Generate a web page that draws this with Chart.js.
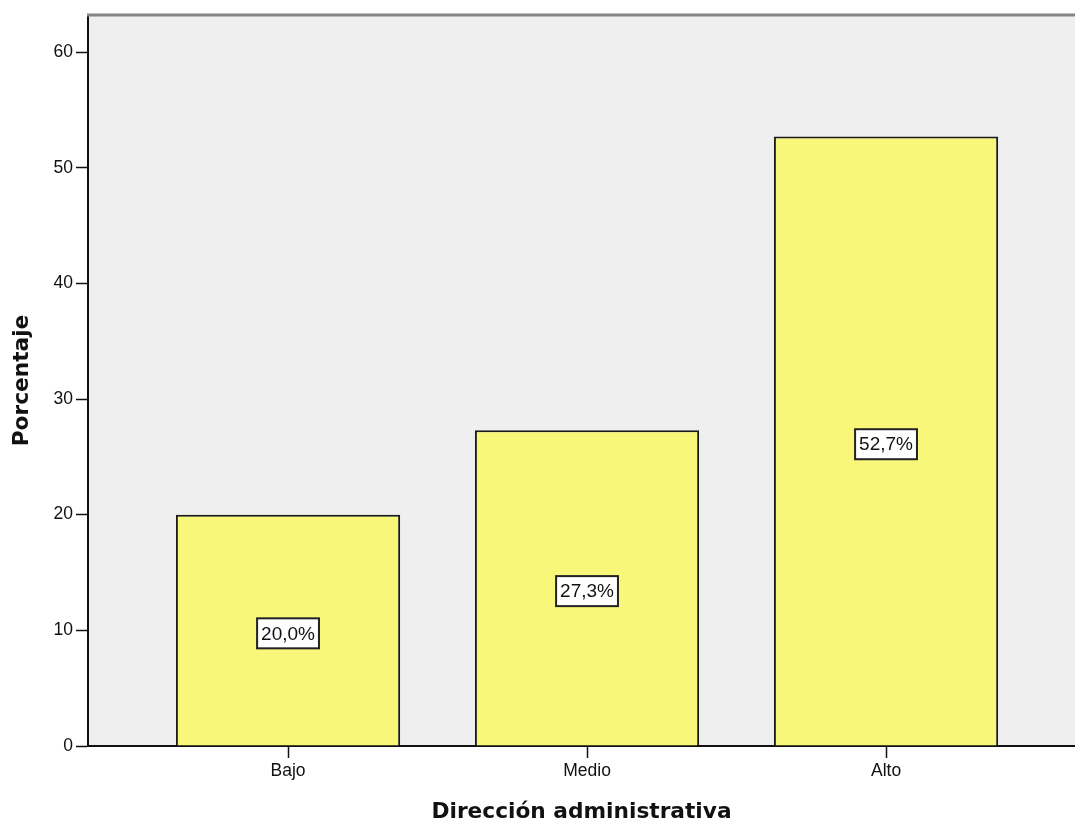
<!DOCTYPE html>
<html>
<head>
<meta charset="utf-8">
<script src="https://cdn.jsdelivr.net/npm/chart.js@4"></script>
<style>
html,body{margin:0;padding:0;background:#fff;}
canvas{display:block;}
</style>
</head>
<body>
<canvas id="c" width="1075" height="825"></canvas>
<script>
const categories = ['Bajo', 'Medio', 'Alto'];
const values = [20.0, 27.3, 52.7];
const valueLabels = ['20,0%', '27,3%', '52,7%'];
const yTicks = [0, 10, 20, 30, 40, 50, 60];
const xTitle = 'Dirección administrativa';
const yTitle = 'Porcentaje';

const tickFont = {family: '"Liberation Sans", Arial, sans-serif', size: 17.5};
const titleFont = {family: '"DejaVu Sans", Verdana, sans-serif', size: 21.7, weight: 'bold'};

const bgPlugin = {
  id: 'bg',
  beforeDraw(chart) {
    const {ctx, chartArea: a} = chart;
    ctx.save();
    ctx.fillStyle = '#efefef';
    ctx.fillRect(a.left, a.top, a.right - a.left, a.bottom - a.top);
    ctx.restore();
  },
  afterDraw(chart) {
    const {ctx, chartArea: a} = chart;
    ctx.save();
    ctx.strokeStyle = '#858585';
    ctx.lineWidth = 3;
    ctx.beginPath();
    ctx.moveTo(a.left - 1, a.top);
    ctx.lineTo(a.right, a.top);
    ctx.stroke();
    ctx.restore();
  }
};

const labelPlugin = {
  id: 'boxLabels',
  afterDatasetsDraw(chart) {
    const {ctx} = chart;
    const meta = chart.getDatasetMeta(0);
    const ys = chart.scales.y;
    ctx.save();
    ctx.font = '19px "Liberation Sans", Arial, sans-serif';
    ctx.textAlign = 'center';
    ctx.textBaseline = 'middle';
    meta.data.forEach((bar, i) => {
      const txt = valueLabels[i];
      const cx = bar.x;
      const cy = ys.getPixelForValue(values[i] / 2) + 3;
      const w = ctx.measureText(txt).width + 8;
      const h = 30;
      ctx.fillStyle = '#ffffff';
      ctx.fillRect(cx - w / 2, cy - h / 2, w, h);
      ctx.strokeStyle = '#222222';
      ctx.lineWidth = 2;
      ctx.strokeRect(cx - w / 2, cy - h / 2, w, h);
      ctx.fillStyle = '#111111';
      ctx.fillText(txt, cx, cy + 1);
    });
    ctx.restore();
  }
};

new Chart(document.getElementById('c'), {
  type: 'bar',
  data: {
    datasets: [{
      data: values.map((v, i) => ({x: i, y: v})),
      backgroundColor: '#f8f77a',
      borderColor: '#1a1a1a',
      borderWidth: 2,
      barPercentage: 0.75,
      categoryPercentage: 1
    }]
  },
  options: {
    responsive: false,
    animation: false,
    devicePixelRatio: 1,
    layout: {padding: {top: 15, right: 0, left: 0, bottom: 0}},
    plugins: {legend: {display: false}, tooltip: {enabled: false}},
    scales: {
      x: {
        type: 'linear',
        offset: false,
        min: -0.669,
        max: 2.632,
        afterBuildTicks(s) { s.ticks = categories.map((c, i) => ({value: i})); },
        afterFit(s) { s.height = 79; },
        ticks: {
          callback: (v) => categories[v],
          font: tickFont, color: '#111', padding: 3, maxRotation: 0, autoSkip: false
        },
        grid: {offset: false, drawOnChartArea: false, tickLength: 12, tickColor: '#111', tickWidth: 1.5},
        border: {display: true, color: '#111', width: 2},
        title: {display: true, text: xTitle, font: titleFont, color: '#111', padding: {top: 0, bottom: 0}}
      },
      y: {
        min: 0,
        max: 63.2,
        afterBuildTicks(s) { s.ticks = yTicks.map(v => ({value: v})); },
        afterFit(s) { s.width = 88; },
        ticks: {font: tickFont, color: '#111', padding: 3},
        grid: {drawOnChartArea: false, tickLength: 12, tickColor: '#111', tickWidth: 1.5},
        border: {display: true, color: '#111', width: 2},
        title: {display: true, text: yTitle, font: titleFont, color: '#111', padding: {top: 9, bottom: 0}}
      }
    }
  },
  plugins: [bgPlugin, labelPlugin]
});
</script>
</body>
</html>
